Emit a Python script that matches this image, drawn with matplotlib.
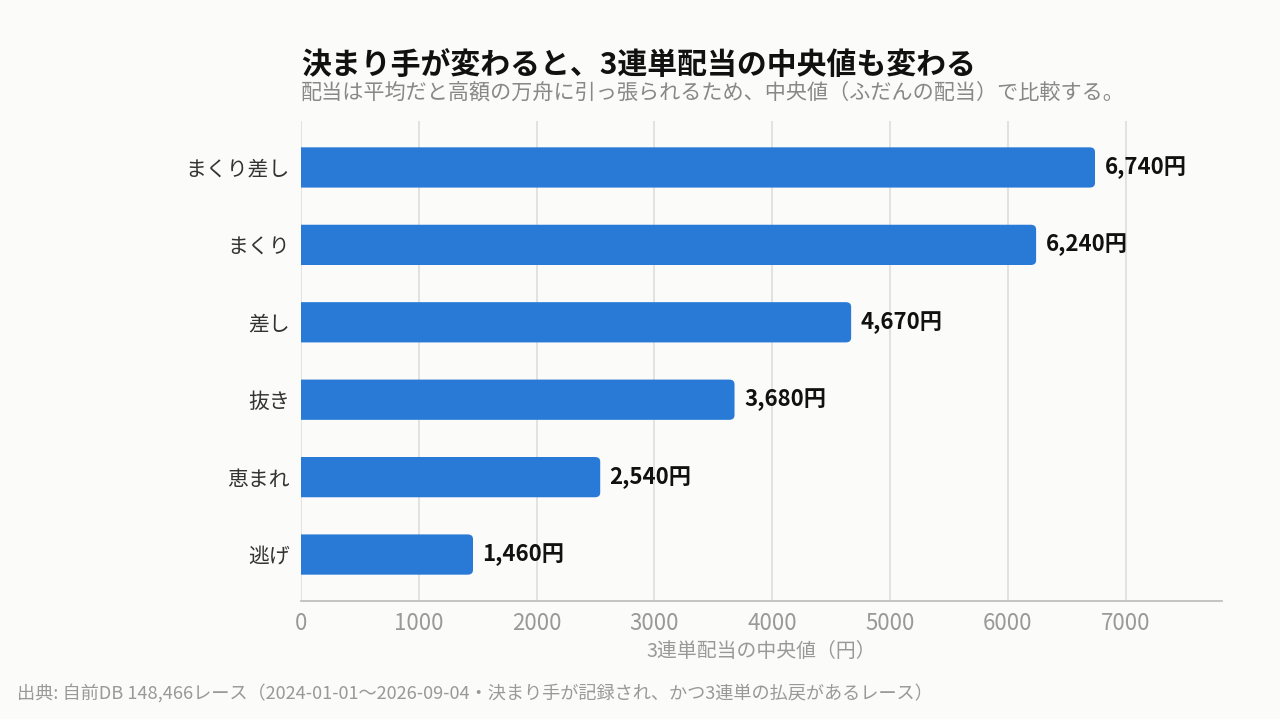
import matplotlib
matplotlib.use("Agg")
import matplotlib.pyplot as plt
from matplotlib.patches import FancyBboxPatch

plt.rcParams['font.family'] = ['Noto Sans CJK JP', 'DejaVu Sans']

categories = ["まくり差し", "まくり", "差し", "抜き", "恵まれ", "逃げ"]
values = [6740, 6240, 4670, 3680, 2540, 1460]
xticks = [0, 1000, 2000, 3000, 4000, 5000, 6000, 7000]

title = "決まり手が変わると、3連単配当の中央値も変わる"
subtitle = "配当は平均だと高額の万舟に引っ張られるため、中央値（ふだんの配当）で比較する。"
xlabel = "3連単配当の中央値（円）"
footer = "出典: 自前DB 148,466レース（2024-01-01～2026-09-04・決まり手が記録され、かつ3連単の払戻があるレース）"

bg = "#fbfbf9"
bar_color = "#2979d6"

fig = plt.figure(figsize=(12.8, 7.19), dpi=100, facecolor=bg)
ax = fig.add_axes([301/1280, 1-601/719, (1222-301)/1280, (601-121)/719])
ax.set_facecolor(bg)

n = len(categories)
ypos = [n - 1 - i for i in range(n)]
h = 0.52
bars = ax.barh(ypos, values, height=h, color=bar_color, zorder=2)

ax.set_xlim(0, 7818)
ax.set_ylim(-0.6, n - 0.4)

# rounded right corners: draw rounded patch extending left of 0 (clipped by axes)
r = 45
for b in bars:
    x0, y0 = b.get_x(), b.get_y()
    w, hh = b.get_width(), b.get_height()
    b.set_visible(False)
    p = FancyBboxPatch((x0 - 200, y0), w + 200, hh,
                       boxstyle=f"round,pad=0,rounding_size={r}",
                       mutation_aspect=0.06 / r, facecolor=bar_color,
                       edgecolor="none", zorder=2)
    ax.add_patch(p)

for y, v in zip(ypos, values):
    ax.text(v + 80, y, f"{v:,}円", va="center", ha="left", fontsize=16,
            fontweight="bold", color="#111111", zorder=3)

ax.set_yticks(ypos)
ax.set_yticklabels(categories, fontsize=15, color="#333333")
ax.set_xticks(xticks)
ax.set_xticklabels([str(t) for t in xticks], fontsize=16, color="#999999")
ax.tick_params(axis="both", length=0)
ax.tick_params(axis="y", pad=8)
ax.tick_params(axis="x", pad=8)

ax.grid(axis="x", color="#dddddd", linewidth=1.2, zorder=0)
ax.set_axisbelow(True)
for s in ["top", "right", "left"]:
    ax.spines[s].set_visible(False)
ax.spines["bottom"].set_color("#bbbbbb")
ax.spines["bottom"].set_linewidth(1.2)

ax.set_xlabel(xlabel, fontsize=14.3, color="#999999", labelpad=4)

fig.text(301/1280, 1-75/719, title, fontsize=21.5, fontweight="bold",
         color="#111111", ha="left", va="baseline")
fig.text(301/1280, 1-99/719, subtitle, fontsize=15.2, color="#888888",
         ha="left", va="baseline")
fig.text(17/1280, 1-699/719, footer, fontsize=13.1, color="#999999",
         ha="left", va="baseline")

fig.savefig("out.png", dpi=100, facecolor=bg)
